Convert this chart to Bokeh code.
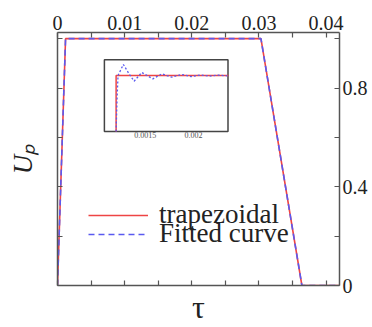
from bokeh.plotting import figure
from bokeh.models import (LinearAxis, FixedTicker, NumeralTickFormatter, Range1d,
                          Legend, LegendItem)
from bokeh.core.properties import value
from bokeh.embed import file_html
from bokeh.resources import INLINE

# Trapezoidal pulse and its fitted curve (main panel)
tau = [0.0, 0.0012, 0.0303, 0.0364, 0.042]
u_trap = [0.0, 1.0, 1.0, 0.0, 0.0]
u_fit = [0.0, 1.0, 1.0, 0.0, 0.0]

# Close-up of the rising corner (inset)
ins_tau_trap = [0.00120, 0.00120, 0.00236]
ins_u_trap = [0.5, 1.0, 1.0]
ins_tau_fit = [0.00120, 0.00121, 0.00122, 0.001275, 0.00133, 0.001386, 0.001466,
               0.00152, 0.00158, 0.001673, 0.00172, 0.001776, 0.00188, 0.001976,
               0.00207, 0.00216, 0.002256, 0.00235]
ins_u_fit = [0.5, 0.8, 1.0, 1.098, 1.02, 0.949, 1.027, 1.0, 0.97, 1.015, 1.0,
             0.985, 1.009, 0.99, 1.005, 0.994, 1.003, 0.997]
ins_ticks = [0.0015, 0.002]
ins_tick_labels = ["0.0015", "0.002"]

x_ticks = [0.0, 0.01, 0.02, 0.03, 0.04]
x_minor = [0.005, 0.015, 0.025, 0.035]
y_ticks = [0.0, 0.4, 0.8]
y_minor = [0.2, 0.6, 1.0]

X_RANGE = (0.0, 0.042)
Y_RANGE = (0.0, 1.025)
INS_X = (0.001079, 0.002356)
INS_Y = (0.5, 1.14)
# inset box as fractions of the main frame (left, right, bottom, top)
INS_BOX = (0.1663, 0.6046, 0.6087, 0.8921)

SERIF = "Liberation Serif"
RED = "#ee4444"
BLUE = "#5a5af0"
AXIS = "#555555"
TEXT = "#222222"

p = figure(width=372, height=327, output_backend="svg", toolbar_location=None,
           x_range=Range1d(*X_RANGE), y_range=Range1d(*Y_RANGE),
           x_axis_location="above", y_axis_location="right",
           min_border_left=57, min_border_right=33, min_border_top=32,
           min_border_bottom=42)
p.outline_line_color = None
p.grid.visible = False
p.background_fill_color = "white"
p.border_fill_color = "white"

# unlabelled mirror axes: every tick is drawn as a minor tick, so no labels
bottom_axis = LinearAxis(ticker=FixedTicker(ticks=[], minor_ticks=x_ticks + x_minor))
left_axis = LinearAxis(ticker=FixedTicker(ticks=[], minor_ticks=y_ticks + y_minor))
p.add_layout(bottom_axis, "below")
p.add_layout(left_axis, "left")

p.above[0].ticker = FixedTicker(ticks=x_ticks, minor_ticks=x_minor)
p.right[0].ticker = FixedTicker(ticks=y_ticks, minor_ticks=y_minor)

for ax in p.xaxis + p.yaxis:
    ax.formatter = NumeralTickFormatter(format="0.[00]")
    ax.axis_line_color = AXIS
    ax.axis_line_width = 1.5
    ax.major_tick_line_color = AXIS
    ax.minor_tick_line_color = AXIS
    ax.major_tick_line_width = 1.2
    ax.minor_tick_line_width = 1.2
    ax.major_tick_in = 5
    ax.major_tick_out = 0
    ax.minor_tick_in = 5
    ax.minor_tick_out = 0
    ax.major_label_text_font = SERIF
    ax.major_label_text_font_size = "20px"
    ax.major_label_text_color = TEXT
    ax.major_label_standoff = 3

bottom_axis.major_label_standoff = 0
left_axis.major_label_standoff = 0
bottom_axis.axis_label = "τ"
bottom_axis.axis_label_text_font = SERIF
bottom_axis.axis_label_text_font_style = "normal"
bottom_axis.axis_label_text_font_size = "32px"
bottom_axis.axis_label_text_color = TEXT
bottom_axis.axis_label_standoff = 3
left_axis.axis_label = "Uₚ"
left_axis.axis_label_text_font = SERIF
left_axis.axis_label_text_font_style = "italic"
left_axis.axis_label_text_font_size = "27px"
left_axis.axis_label_text_color = TEXT
left_axis.axis_label_standoff = 20

r_trap = p.line(tau, u_trap, line_color=RED, line_width=1.6)
r_fit = p.line(tau, u_fit, line_color=BLUE, line_width=1.6, line_dash="6 4")

# Inset drawn through its own ranges, scaled onto a box inside the frame
fx0, fx1, fy0, fy1 = INS_BOX
sx = (INS_X[1] - INS_X[0]) / (fx1 - fx0)
sy = (INS_Y[1] - INS_Y[0]) / (fy1 - fy0)
p.extra_x_ranges = {"ins_x": Range1d(INS_X[0] - fx0 * sx, INS_X[0] - fx0 * sx + sx)}
p.extra_y_ranges = {"ins_y": Range1d(INS_Y[0] - fy0 * sy, INS_Y[0] - fy0 * sy + sy)}

p.quad(left=[INS_X[0]], right=[INS_X[1]], bottom=[INS_Y[0]], top=[INS_Y[1]],
       fill_color="white", line_color="#444444", line_width=1.5,
       x_range_name="ins_x", y_range_name="ins_y")
p.line(ins_tau_trap, ins_u_trap, line_color=RED, line_width=1.5,
       x_range_name="ins_x", y_range_name="ins_y")
p.line(ins_tau_fit, ins_u_fit, line_color=BLUE, line_width=1.3, line_dash="2 2",
       x_range_name="ins_x", y_range_name="ins_y")
p.text(x=ins_ticks, y=[INS_Y[0]] * len(ins_ticks), text=ins_tick_labels,
       text_font=value(SERIF), text_font_size="8px", text_color="#555555",
       text_align="center", text_baseline="top", y_offset=1,
       x_range_name="ins_x", y_range_name="ins_y")

# two single-entry legends, stacked tightly
def make_legend(label, renderer, y):
    lg = Legend(items=[LegendItem(label=label, renderers=[renderer])],
                location=(31, y))
    lg.label_text_font = SERIF
    lg.label_text_font_size = "27px"
    lg.label_text_color = TEXT
    lg.glyph_width = 60
    lg.glyph_height = 16
    lg.label_height = 16
    lg.label_standoff = 11
    lg.padding = 0
    lg.margin = 0
    lg.border_line_color = None
    lg.background_fill_alpha = 0
    return lg

p.add_layout(make_legend("trapezoidal", r_trap, 55), "center")
p.add_layout(make_legend("Fitted curve", r_fit, 36), "center")

open("out.html", "w").write(file_html(p, INLINE))
